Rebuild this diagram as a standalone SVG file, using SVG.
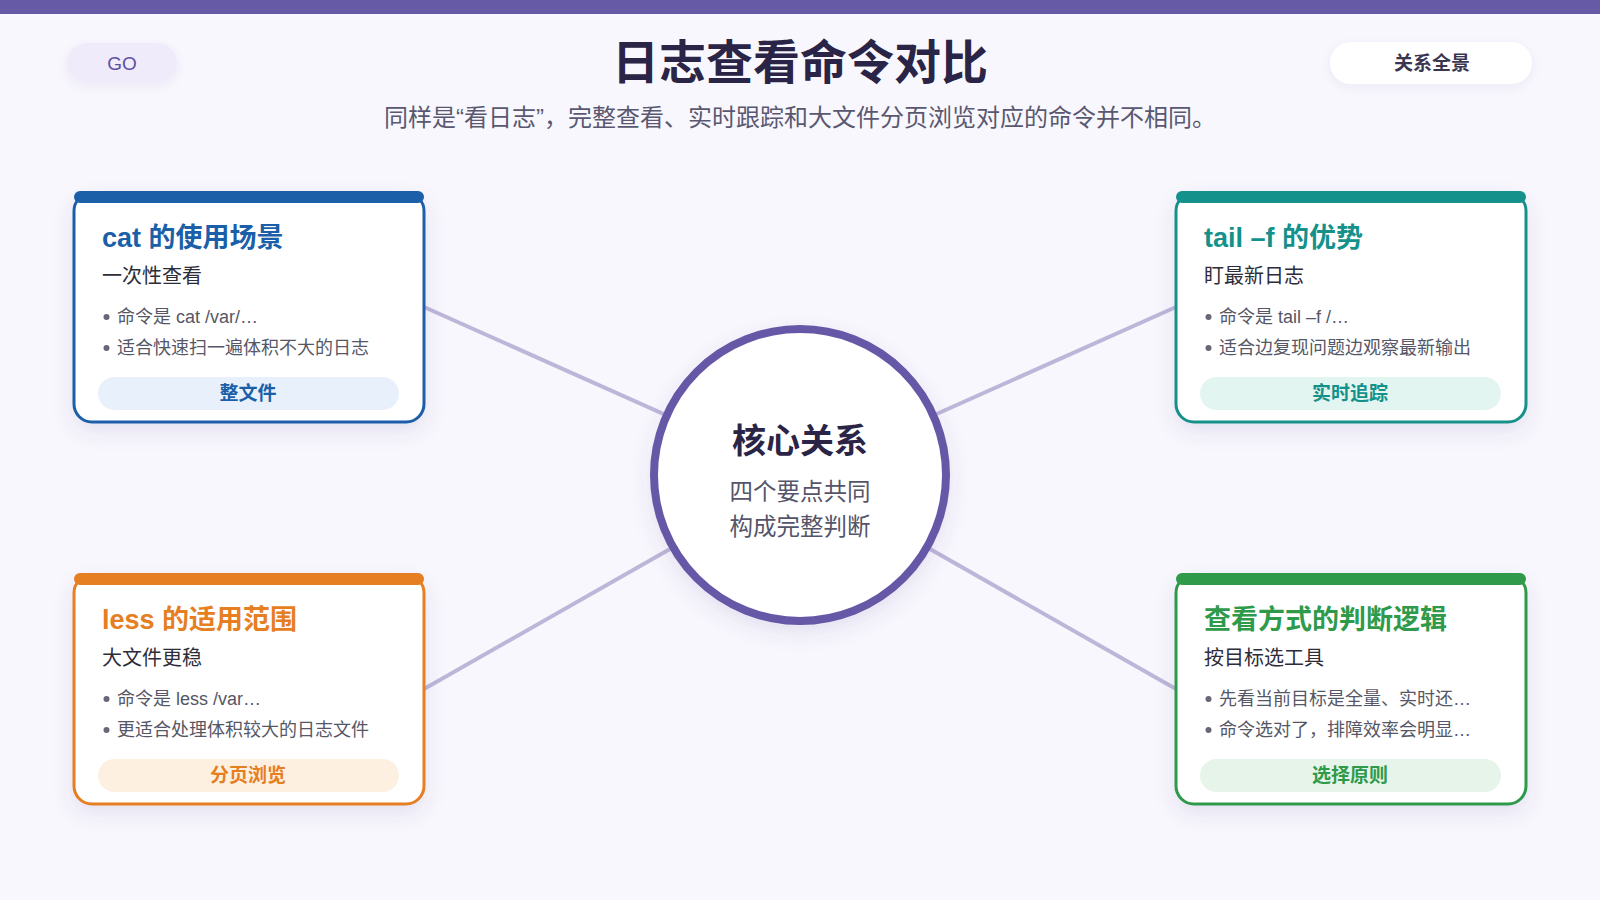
<svg xmlns="http://www.w3.org/2000/svg" width="1600" height="900" viewBox="0 0 1600 900">
<defs>
<filter id="sh" x="-20%" y="-20%" width="140%" height="150%">
<feDropShadow dx="0" dy="8" stdDeviation="10" flood-color="#5a4f9a" flood-opacity="0.12"/>
</filter>
<filter id="sh2" x="-20%" y="-20%" width="140%" height="150%">
<feDropShadow dx="0" dy="3" stdDeviation="5" flood-color="#5a4f9a" flood-opacity="0.07"/>
</filter>
</defs>
<style>
text{font-family:"Liberation Sans","Noto Sans CJK SC",sans-serif}
.title{font-size:47px;font-weight:700;fill:#2a2546}
.sub{font-size:24px;fill:#5a5870}
.card{fill:#ffffff;stroke-width:3}
.ct{font-size:27px;font-weight:700}
.cs{font-size:20px;fill:#2d2d3a}
.cb{font-size:18px;fill:#555766}
.dot{fill:#666877}
.tag{font-size:19px;font-weight:700}
.conn{stroke:#bdb6d8;stroke-width:4;fill:none}
</style>
<rect width="1600" height="900" fill="#f8f7fd"/>
<rect x="0" y="0" width="1600" height="14" fill="#6659a6"/>

<g id="go-btn">
<rect x="67" y="43" width="110" height="40" rx="20" fill="#efebfb" filter="url(#sh2)"/>
<text x="122" y="70" text-anchor="middle" font-size="19" fill="#5e50a0">GO</text>
</g>
<g id="header">
<text class="title" x="800" y="79" text-anchor="middle">日志查看命令对比</text>
<text class="sub" x="800" y="126" text-anchor="middle">同样是“看日志”，完整查看、实时跟踪和大文件分页浏览对应的命令并不相同。</text>
</g>
<g id="overview-btn">
<rect x="1330" y="42" width="202" height="42" rx="21" fill="#ffffff" filter="url(#sh2)"/>
<text x="1432" y="70" text-anchor="middle" font-size="19" font-weight="700" fill="#3a3650">关系全景</text>
</g>

<g id="connectors">
<line class="conn" x1="424" y1="307" x2="800" y2="475"/>
<line class="conn" x1="1176" y1="307" x2="800" y2="475"/>
<line class="conn" x1="424" y1="689" x2="800" y2="475"/>
<line class="conn" x1="1176" y1="689" x2="800" y2="475"/>
</g>

<g id="center">
<circle cx="800" cy="475" r="146" fill="#ffffff" stroke="#6658a6" stroke-width="8" filter="url(#sh)"/>
<text x="800" y="453" text-anchor="middle" font-size="34" font-weight="700" fill="#2a2546">核心关系</text>
<text x="800" y="500" text-anchor="middle" font-size="23.5" fill="#55556a">四个要点共同</text>
<text x="800" y="535" text-anchor="middle" font-size="23.5" fill="#55556a">构成完整判断</text>
</g>

<g id="card-cat">
<rect class="card" x="74" y="193" width="350" height="229" rx="18" stroke="#1a5fa8" filter="url(#sh)"/>
<rect x="74" y="191" width="350" height="12" rx="6" fill="#1a5fa8"/>
<text class="ct" x="102" y="247" fill="#1a5fa8">cat 的使用场景</text>
<text class="cs" x="102" y="283">一次性查看</text>
<circle class="dot" cx="106.5" cy="317" r="3"/>
<text class="cb" x="117" y="323">命令是 cat /var/…</text>
<circle class="dot" cx="106.5" cy="348" r="3"/>
<text class="cb" x="117" y="354">适合快速扫一遍体积不大的日志</text>
<rect x="98" y="377" width="301" height="33" rx="16.5" fill="#e8f1fb"/>
<text class="tag" x="248" y="400" text-anchor="middle" fill="#1a5fa8">整文件</text>
</g>

<g id="card-tail">
<rect class="card" x="1176" y="193" width="350" height="229" rx="18" stroke="#14918a" filter="url(#sh)"/>
<rect x="1176" y="191" width="350" height="12" rx="6" fill="#14918a"/>
<text class="ct" x="1204" y="247" fill="#14918a">tail –f 的优势</text>
<text class="cs" x="1204" y="283">盯最新日志</text>
<circle class="dot" cx="1208.5" cy="317" r="3"/>
<text class="cb" x="1219" y="323">命令是 tail –f /…</text>
<circle class="dot" cx="1208.5" cy="348" r="3"/>
<text class="cb" x="1219" y="354">适合边复现问题边观察最新输出</text>
<rect x="1200" y="377" width="301" height="33" rx="16.5" fill="#e3f5f1"/>
<text class="tag" x="1350" y="400" text-anchor="middle" fill="#14918a">实时追踪</text>
</g>

<g id="card-less">
<rect class="card" x="74" y="575" width="350" height="229" rx="18" stroke="#e67e22" filter="url(#sh)"/>
<rect x="74" y="573" width="350" height="12" rx="6" fill="#e67e22"/>
<text class="ct" x="102" y="629" fill="#e67e22">less 的适用范围</text>
<text class="cs" x="102" y="665">大文件更稳</text>
<circle class="dot" cx="106.5" cy="699" r="3"/>
<text class="cb" x="117" y="705">命令是 less /var…</text>
<circle class="dot" cx="106.5" cy="730" r="3"/>
<text class="cb" x="117" y="736">更适合处理体积较大的日志文件</text>
<rect x="98" y="759" width="301" height="33" rx="16.5" fill="#fdf0e1"/>
<text class="tag" x="248" y="782" text-anchor="middle" fill="#e67e22">分页浏览</text>
</g>

<g id="card-logic">
<rect class="card" x="1176" y="575" width="350" height="229" rx="18" stroke="#2e9a4a" filter="url(#sh)"/>
<rect x="1176" y="573" width="350" height="12" rx="6" fill="#2e9a4a"/>
<text class="ct" x="1204" y="629" fill="#2e9a4a">查看方式的判断逻辑</text>
<text class="cs" x="1204" y="665">按目标选工具</text>
<circle class="dot" cx="1208.5" cy="699" r="3"/>
<text class="cb" x="1219" y="705">先看当前目标是全量、实时还…</text>
<circle class="dot" cx="1208.5" cy="730" r="3"/>
<text class="cb" x="1219" y="736">命令选对了，排障效率会明显…</text>
<rect x="1200" y="759" width="301" height="33" rx="16.5" fill="#e6f4e9"/>
<text class="tag" x="1350" y="782" text-anchor="middle" fill="#2e9a4a">选择原则</text>
</g>
</svg>
